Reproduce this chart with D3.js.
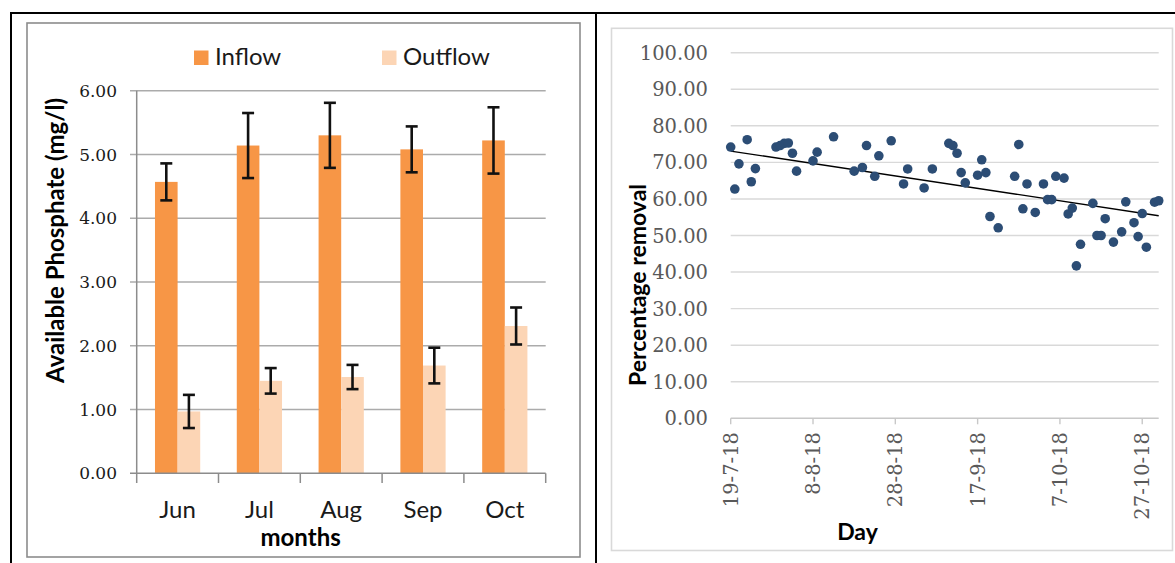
<!DOCTYPE html>
<html>
<head>
<meta charset="utf-8">
<script src="https://cdn.jsdelivr.net/npm/d3@7"></script>
<style>
  html, body { margin: 0; padding: 0; background: #fff; }
  svg { display: block; }
</style>
</head>
<body>
<svg id="chart" width="1175" height="563"></svg>
<script>
// ---------- Left chart data ----------
const months = ["Jun", "Jul", "Aug", "Sep", "Oct"];
const seriesNames = ["Inflow", "Outflow"];
const inflow = [4.57, 5.14, 5.30, 5.08, 5.22];
const inflowErr = [0.29, 0.51, 0.51, 0.36, 0.52];
const outflow = [0.97, 1.45, 1.51, 1.69, 2.31];
const outflowErr = [0.26, 0.20, 0.19, 0.28, 0.29];
const leftTicks = [0, 1, 2, 3, 4, 5, 6];

// ---------- Right chart data ----------
const days = [
  "2018-07-19","2018-07-20","2018-07-21","2018-07-23","2018-07-24","2018-07-25",
  "2018-07-30","2018-07-31","2018-08-01","2018-08-02","2018-08-03","2018-08-04",
  "2018-08-08","2018-08-09","2018-08-13","2018-08-18","2018-08-20","2018-08-21",
  "2018-08-23","2018-08-24","2018-08-27","2018-08-30","2018-08-31","2018-09-04",
  "2018-09-06","2018-09-10","2018-09-11","2018-09-12","2018-09-13","2018-09-14",
  "2018-09-17","2018-09-18","2018-09-19","2018-09-20","2018-09-22","2018-09-26",
  "2018-09-27","2018-09-28","2018-09-29","2018-10-01","2018-10-03","2018-10-04",
  "2018-10-05","2018-10-06","2018-10-08","2018-10-09","2018-10-10","2018-10-11",
  "2018-10-12","2018-10-15","2018-10-16","2018-10-17","2018-10-18","2018-10-20",
  "2018-10-22","2018-10-23","2018-10-25","2018-10-26","2018-10-27","2018-10-28",
  "2018-10-30","2018-10-31"
];
const removal = [
  74.2, 62.7, 69.6, 76.2, 64.7, 68.3,
  74.2, 74.6, 75.2, 75.3, 72.5, 67.6,
  70.4, 72.8, 77.0, 67.6, 68.6, 74.6,
  66.2, 71.8, 75.9, 64.1, 68.2, 63.0,
  68.2, 75.2, 74.6, 72.5, 67.2, 64.4,
  66.5, 70.7, 67.2, 55.2, 52.1, 66.2,
  74.9, 57.3, 64.1, 56.3, 64.1, 59.8,
  59.8, 66.2, 65.7, 55.9, 57.5, 41.7,
  47.6, 58.8, 50.0, 50.0, 54.6, 48.2,
  51.0, 59.2, 53.5, 49.7, 56.0, 46.8,
  59.1, 59.5
];
// linear trendline (start / end of data range)
const trendDays = ["2018-07-19", "2018-10-31"];
const trendValues = [73.1, 55.4];
const dayTickDates = ["2018-07-19","2018-08-08","2018-08-28","2018-09-17","2018-10-07","2018-10-27"];
const dayTickLabels = ["19-7-18","8-8-18","28-8-18","17-9-18","7-10-18","27-10-18"];
const dayDomain = ["2018-07-19", "2018-10-31"];
const rightTicks = [0,10,20,30,40,50,60,70,80,90,100];

// ---------- Drawing ----------
const svg = d3.select("#chart");
const parse = d3.utcParse("%Y-%m-%d");

// outer table lines
const frame = svg.append("g").attr("stroke", "#000").attr("stroke-width", 2);
frame.append("line").attr("x1", 10).attr("x2", 1175).attr("y1", 13).attr("y2", 13);
frame.append("line").attr("x1", 11).attr("x2", 11).attr("y1", 12).attr("y2", 563);
frame.append("line").attr("x1", 596).attr("x2", 596).attr("y1", 12).attr("y2", 563);

// ===== LEFT CHART =====
const L = svg.append("g");
L.append("rect").attr("x", 27).attr("y", 23).attr("width", 553).attr("height", 534)
  .attr("fill", "#fff").attr("stroke", "#8c8c8c").attr("stroke-width", 1.6);

const yL = d3.scaleLinear().domain([0, 6]).range([473.3, 90.7]);
const xL = d3.scaleBand().domain(months).range([136.7, 545.7])
  .paddingInner(0.447).paddingOuter(0.2235);
const xS = d3.scaleBand().domain(seriesNames).range([0, xL.bandwidth()]);
const colors = { Inflow: "#F79646", Outflow: "#FCD5B5" };
const serifFont = "'DejaVu Serif', serif";
const sansFont = "Lato, 'Open Sans', sans-serif";

// gridlines (+ left ticks)
L.append("g").selectAll("line").data(leftTicks.filter(d => d > 0)).join("line")
  .attr("x1", 130).attr("x2", 545.7)
  .attr("y1", d => yL(d)).attr("y2", d => yL(d))
  .attr("stroke", "#ababab").attr("stroke-width", 1.4);

// tick labels
L.append("g").selectAll("text").data(leftTicks).join("text")
  .attr("x", 117).attr("y", d => yL(d)).attr("dy", "0.36em")
  .attr("text-anchor", "end")
  .attr("font-family", serifFont).attr("font-size", 17)
  .attr("fill", "#1a1a1a")
  .text(d => d3.format(".2f")(d));

const barData = [];
months.forEach((m, i) => {
  barData.push({ m, s: "Inflow", v: inflow[i], e: inflowErr[i] });
  barData.push({ m, s: "Outflow", v: outflow[i], e: outflowErr[i] });
});

L.append("g").selectAll("rect").data(barData).join("rect")
  .attr("x", d => xL(d.m) + xS(d.s))
  .attr("width", xS.bandwidth())
  .attr("y", d => yL(d.v))
  .attr("height", d => yL(0) - yL(d.v))
  .attr("fill", d => colors[d.s]);

// error bars
const eb = L.append("g").attr("stroke", "#111").attr("stroke-width", 2.6);
barData.forEach(d => {
  const cx = xL(d.m) + xS(d.s) + xS.bandwidth() / 2;
  const y1 = yL(d.v + d.e), y2 = yL(d.v - d.e);
  eb.append("line").attr("x1", cx).attr("x2", cx).attr("y1", y1).attr("y2", y2);
  eb.append("line").attr("x1", cx - 6).attr("x2", cx + 6).attr("y1", y1).attr("y2", y1);
  eb.append("line").attr("x1", cx - 6).attr("x2", cx + 6).attr("y1", y2).attr("y2", y2);
});

// axes lines
const axL = L.append("g").attr("stroke", "#8c8c8c").attr("stroke-width", 1.5);
axL.append("line").attr("x1", 136.7).attr("x2", 136.7).attr("y1", yL(6)).attr("y2", 483);
axL.append("line").attr("x1", 130).attr("x2", 545.7).attr("y1", yL(0)).attr("y2", yL(0));
const step = xL.step();
const bounds = months.map(m => xL(m) - (step - xL.bandwidth()) / 2).concat([xL(months[months.length - 1]) + xL.bandwidth() + (step - xL.bandwidth()) / 2]);
axL.selectAll(null).data(bounds.slice(1)).join("line")
  .attr("x1", d => d).attr("x2", d => d).attr("y1", yL(0)).attr("y2", 483);

// category labels
L.append("g").selectAll("text").data(months).join("text")
  .attr("x", d => xL(d) + xL.bandwidth() / 2).attr("y", 518)
  .attr("text-anchor", "middle")
  .attr("font-family", sansFont).attr("font-size", 24).attr("fill", "#1a1a1a")
  .text(d => d);

// axis titles
L.append("text").attr("x", 300.6).attr("y", 546).attr("text-anchor", "middle")
  .attr("font-family", sansFont).attr("font-weight", "bold").attr("font-size", 24)
  .attr("fill", "#000").text("months");
L.append("text").attr("transform", "translate(64,240.5) rotate(-90)")
  .attr("text-anchor", "middle")
  .attr("font-family", sansFont).attr("font-weight", "bold").attr("font-size", 24)
  .attr("fill", "#000").text("Available Phosphate  (mg/l)");

// legend
const legendX = { Inflow: 194, Outflow: 382 };
seriesNames.forEach(s => {
  L.append("rect").attr("x", legendX[s]).attr("y", 50.5).attr("width", 14.5).attr("height", 14.5)
    .attr("fill", colors[s]);
  L.append("text").attr("x", legendX[s] + 21).attr("y", 64.5)
    .attr("font-family", sansFont).attr("font-size", 24).attr("fill", "#1a1a1a").text(s);
});

// ===== RIGHT CHART =====
const R = svg.append("g");
R.append("rect").attr("x", 611.5).attr("y", 28.3).attr("width", 561).attr("height", 522.2)
  .attr("fill", "#fff").attr("stroke", "#d9d9d9").attr("stroke-width", 1.6);

const xR = d3.scaleUtc().domain(dayDomain.map(parse)).range([730.7, 1158.7]);
const yR = d3.scaleLinear().domain([0, 100]).range([418.3, 52.7]);

R.append("g").selectAll("line").data(rightTicks.filter(d => d > 0)).join("line")
  .attr("x1", 730.7).attr("x2", 1158.7)
  .attr("y1", d => yR(d)).attr("y2", d => yR(d))
  .attr("stroke", "#d9d9d9").attr("stroke-width", 1.4);

R.append("g").selectAll("text").data(rightTicks).join("text")
  .attr("x", 708).attr("y", d => yR(d)).attr("dy", "0.36em")
  .attr("text-anchor", "end")
  .attr("font-family", serifFont).attr("font-size", 19.5).attr("fill", "#595959")
  .text(d => d3.format(".2f")(d));

// x axis
const axR = R.append("g").attr("stroke", "#c8c8c8").attr("stroke-width", 1.4);
axR.append("line").attr("x1", 730.7).attr("x2", 1158.7).attr("y1", yR(0)).attr("y2", yR(0));
axR.selectAll(null).data(dayTickDates).join("line")
  .attr("x1", d => xR(parse(d))).attr("x2", d => xR(parse(d)))
  .attr("y1", yR(0)).attr("y2", yR(0) + 6);

R.append("g").selectAll("text").data(dayTickDates).join("text")
  .attr("transform", d => `translate(${xR(parse(d))},432) rotate(-90)`)
  .attr("dy", "0.36em").attr("text-anchor", "end")
  .attr("font-family", serifFont).attr("font-size", 19.5).attr("fill", "#595959")
  .text((d, i) => dayTickLabels[i]);

// trendline
R.append("line")
  .attr("x1", xR(parse(trendDays[0]))).attr("y1", yR(trendValues[0]))
  .attr("x2", xR(parse(trendDays[1]))).attr("y2", yR(trendValues[1]))
  .attr("stroke", "#000").attr("stroke-width", 1.3);

const pts = days.map((d, i) => ({ t: parse(d), v: removal[i] }));
R.append("g").selectAll("circle").data(pts).join("circle")
  .attr("cx", d => xR(d.t)).attr("cy", d => yR(d.v)).attr("r", 4.8)
  .attr("fill", "#2C4D75");

// titles
R.append("text").attr("x", 857.5).attr("y", 540).attr("text-anchor", "middle")
  .attr("font-family", sansFont).attr("font-weight", "bold").attr("font-size", 23)
  .attr("fill", "#000").text("Day");
R.append("text").attr("transform", "translate(646,285) rotate(-90)")
  .attr("text-anchor", "middle")
  .attr("font-family", sansFont).attr("font-weight", "bold").attr("font-size", 23)
  .attr("fill", "#000").text("Percentage removal");
</script>
</body>
</html>
